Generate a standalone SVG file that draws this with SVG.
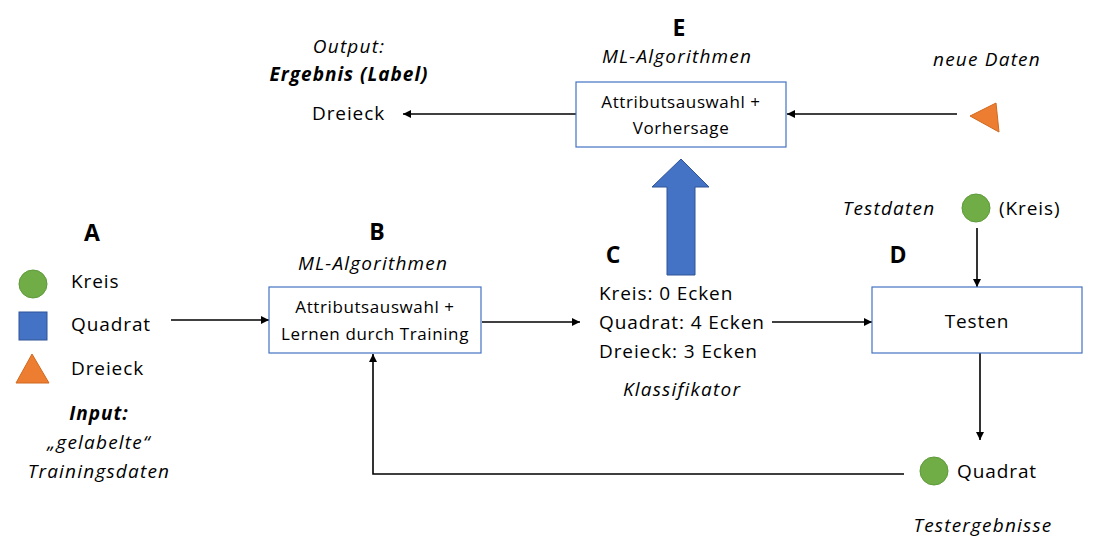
<svg xmlns="http://www.w3.org/2000/svg" width="1096" height="547" viewBox="0 0 1096 547">
<style>
text{font-family:"Open Sans","Noto Sans","Liberation Sans",sans-serif;fill:#000}
.t{font-size:19px;letter-spacing:0.9px}
.bx{font-size:17px;letter-spacing:0.6px}
.i{font-style:italic;font-size:19px;letter-spacing:1.2px}
.bi{font-style:italic;font-weight:bold;font-size:19px;letter-spacing:1px}
.L{font-weight:bold;font-size:23px}
.m{text-anchor:middle}
.box{fill:#fff;stroke:#4472C4;stroke-width:1.2}
.c{stroke:#000;stroke-width:1.6;fill:none}
.g{fill:#70AD47;stroke:#5E9A3A;stroke-width:1}
.o{fill:#ED7D31;stroke:#D0691F;stroke-width:1}
.b{fill:#4472C4;stroke:#2F5597;stroke-width:1}
</style>
<defs>
<marker id="ah" viewBox="0 0 10 10" refX="10" refY="5" markerWidth="5" markerHeight="5" orient="auto" markerUnits="strokeWidth">
<path d="M0,0 L10,5 L0,10 z" fill="#000"/>
</marker>
</defs>

<g id="connectors">
<path class="c" d="M576,114 L403,114" marker-end="url(#ah)"/>
<path class="c" d="M957,114 L787,114" marker-end="url(#ah)"/>
<path class="c" d="M171,320 L269,320" marker-end="url(#ah)"/>
<path class="c" d="M482,322 L580,322" marker-end="url(#ah)"/>
<path class="c" d="M772,322 L872,322" marker-end="url(#ah)"/>
<path class="c" d="M977,228 L977,287" marker-end="url(#ah)"/>
<path class="c" d="M980,353 L980,440" marker-end="url(#ah)"/>
<path class="c" d="M904,474 L373,474 L373,354" marker-end="url(#ah)"/>
<polygon id="bigArrow" class="b" points="681,159 709,187 695,187 695,275 667,275 667,187 652,187"/>
</g>

<g id="nodeA">
<text class="L m" x="92" y="241">A</text>
<circle class="g" cx="33" cy="284" r="14"/>
<rect class="b" x="19" y="312" width="28" height="28"/>
<polygon class="o" points="32,354 49,383 16,383"/>
<text class="t" x="71" y="288">Kreis</text>
<text class="t" x="71" y="331">Quadrat</text>
<text class="t" x="71" y="375">Dreieck</text>
<text class="bi m" x="99" y="420">Input:</text>
<text class="i m" x="99" y="449">„gelabelte“</text>
<text class="i m" x="99" y="478">Trainingsdaten</text>
</g>

<g id="nodeB">
<text class="L m" x="377" y="240">B</text>
<text class="i m" x="373" y="270">ML-Algorithmen</text>
<rect class="box" x="269" y="287" width="212" height="66"/>
<text class="bx m" x="375" y="313">Attributsauswahl +</text>
<text class="bx m" x="375" y="340">Lernen durch Training</text>
</g>

<g id="nodeC">
<text class="L m" x="613" y="263">C</text>
<text class="t" x="599" y="300">Kreis: 0 Ecken</text>
<text class="t" x="599" y="329">Quadrat: 4 Ecken</text>
<text class="t" x="599" y="358">Dreieck: 3 Ecken</text>
<text class="i m" x="682" y="396">Klassifikator</text>
</g>

<g id="nodeD">
<text class="L m" x="898" y="263">D</text>
<text class="i m" x="889" y="215">Testdaten</text>
<circle class="g" cx="976" cy="208" r="14"/>
<text class="t" x="999" y="215">(Kreis)</text>
<rect class="box" x="872" y="287" width="210" height="66"/>
<text class="t m" x="977" y="328">Testen</text>
</g>

<g id="nodeResult">
<circle class="g" cx="934" cy="471" r="14"/>
<text class="t" x="957" y="478">Quadrat</text>
<text class="i m" x="983" y="532">Testergebnisse</text>
</g>

<g id="nodeE">
<text class="L m" x="679" y="36">E</text>
<text class="i m" x="677" y="63">ML-Algorithmen</text>
<rect class="box" x="576" y="82" width="210" height="65"/>
<text class="bx m" x="681" y="108">Attributsauswahl +</text>
<text class="bx m" x="681" y="134">Vorhersage</text>
</g>

<g id="nodeOutput">
<text class="i m" x="349" y="53">Output:</text>
<text class="bi m" x="349" y="81">Ergebnis (Label)</text>
<text class="t" x="312" y="120">Dreieck</text>
</g>

<g id="nodeNew">
<text class="i m" x="987" y="66">neue Daten</text>
<polygon class="o" points="970,116 996,103 999,132"/>
</g>
</svg>
